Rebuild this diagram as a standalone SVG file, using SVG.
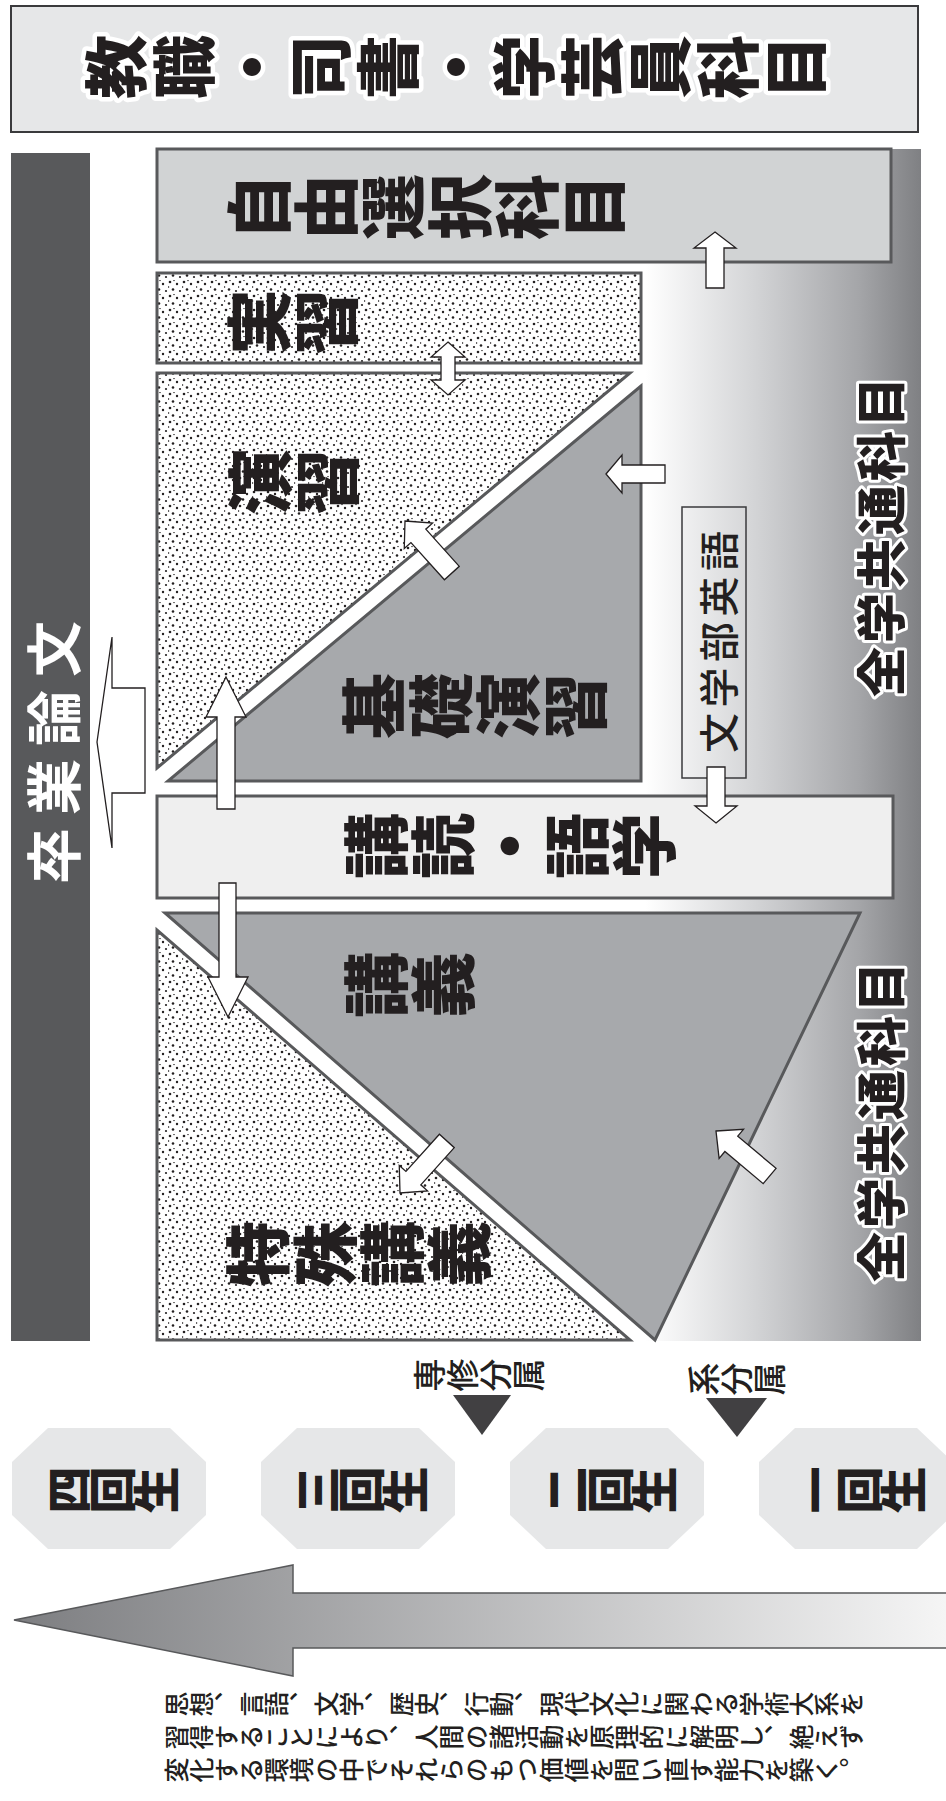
<svg xmlns="http://www.w3.org/2000/svg" width="946" height="1801" viewBox="0 0 946 1801">
<style>
text { font-family: "Noto Sans CJK JP", "Noto Sans CJK SC", sans-serif; fill: #231f20; }
.vb { writing-mode: vertical-rl; }
.lbl { font-size: 66px; font-weight: 900; letter-spacing: 1px; }
.title { font-size: 64px; font-weight: 900; letter-spacing: 4px; stroke: #fff; stroke-width: 9px; stroke-linejoin: round; paint-order: stroke fill; }
.zen { font-size: 50px; font-weight: 900; letter-spacing: 4px; stroke: #fff; stroke-width: 6px; stroke-linejoin: round; paint-order: stroke fill; }
.small { font-size: 33px; font-weight: 500; }
.year { font-size: 47px; font-weight: 900; letter-spacing: -3px; }
.para { font-size: 25px; font-weight: 500; }
.box { stroke: #58595b; stroke-width: 3; }
.arr { fill: #fff; stroke: #231f20; stroke-width: 1.3; stroke-linejoin: miter; }
.oct { fill: #e6e7e8; }
</style>
<defs>
<pattern id="dots" width="14" height="14" patternUnits="userSpaceOnUse">
<rect width="14" height="14" fill="#fff"/>
<g fill="#231f20">
<circle cx="2" cy="2" r="1.3"/>
<circle cx="9" cy="4" r="1.2"/>
<circle cx="5" cy="9.5" r="1.3"/>
<circle cx="12" cy="11" r="1.1"/>
<circle cx="0.5" cy="7" r="0.8"/>
<circle cx="6" cy="0.5" r="0.7"/>
</g>
</pattern>
<linearGradient id="band" gradientUnits="userSpaceOnUse" x1="155" y1="0" x2="921" y2="0">
<stop offset="0" stop-color="#fff"/>
<stop offset="0.64" stop-color="#fff"/>
<stop offset="0.78" stop-color="#d4d5d7"/>
<stop offset="0.92" stop-color="#a4a5a8"/>
<stop offset="1" stop-color="#7f8083"/>
</linearGradient>
<linearGradient id="bigarr" gradientUnits="userSpaceOnUse" x1="14" y1="0" x2="946" y2="0">
<stop offset="0" stop-color="#7d7e81"/>
<stop offset="1" stop-color="#f5f5f5"/>
</linearGradient>
</defs>
<rect width="946" height="1801" fill="#fff"/>

<g id="title">
<rect x="11" y="6" width="907" height="126" fill="#e6e7e8" stroke="#3a3a3c" stroke-width="2"/>
<text class="vb title" x="84" y="67" transform="rotate(-90 84 67)">教職・司書・学芸員科目</text>
</g>

<g id="band-zenkaku">
<rect x="155" y="149" width="766" height="1192" fill="url(#band)"/>
</g>

<g id="sotsugyo">
<rect x="11" y="153" width="79" height="1188" fill="#58595b"/>
<text x="50" y="884" transform="rotate(-90 50 884)" dominant-baseline="central" style="fill:#fff;font-size:56px;font-weight:700;letter-spacing:13px">卒業論文</text>
</g>

<g id="jiyu">
<rect x="157" y="149" width="734" height="113" fill="#d1d3d4" class="box"/>
<text class="vb lbl" x="226" y="207" transform="rotate(-90 226 207)">自由選択科目</text>
</g>

<g id="jisshu">
<rect x="157" y="273" width="484" height="90" fill="url(#dots)" class="box"/>
<text class="vb lbl" x="226" y="322" transform="rotate(-90 226 322)">実習</text>
</g>

<g id="enshu">
<polygon points="157,373 630,373 157,768" fill="url(#dots)" class="box"/>
<text class="vb lbl" x="227" y="482" transform="rotate(-90 227 482)">演習</text>
</g>

<g id="kiso-enshu">
<polygon points="641,386 641,781 168,781" fill="#a7a9ac" class="box"/>
<text class="vb lbl" x="341" y="706" transform="rotate(-90 341 706)">基礎演習</text>
</g>

<g id="bungakubu-eigo">
<rect x="682" y="507" width="64" height="271" fill="none" stroke="#3a3a3c" stroke-width="1.5"/>
<text x="717" y="753" transform="rotate(-90 717 753)" dominant-baseline="central" style="font-size:40px;font-weight:500;letter-spacing:5.5px">文学部英語</text>
</g>

<g id="kodoku-gogaku">
<rect x="157" y="796" width="736" height="102" fill="#efefef" class="box"/>
<text class="vb lbl" x="343" y="846" transform="rotate(-90 343 846)">講読・語学</text>
</g>

<g id="kogi">
<polygon points="165,913 860,913 655,1340" fill="#a7a9ac" class="box"/>
<text class="vb lbl" x="343" y="985" transform="rotate(-90 343 985)">講義</text>
</g>

<g id="tokushu-kogi">
<polygon points="157,930 157,1340 630,1340" fill="url(#dots)" class="box"/>
<text class="vb lbl" x="225" y="1254" transform="rotate(-90 225 1254)">特殊講義</text>
</g>

<g id="zengaku-1">
<text class="zen" x="878" y="697" transform="rotate(-90 878 697)" dominant-baseline="central">全学共通科目</text>
</g>
<g id="zengaku-2">
<text class="zen" x="878" y="1282" transform="rotate(-90 878 1282)" dominant-baseline="central">全学共通科目</text>
</g>

<g id="connectors">
<path class="arr" d="M715,232 L736,248 L724,248 L724,288 L706,288 L706,248 L694,248 Z"/>
<path class="arr" d="M448,342 L465,357 L455,357 L455,380 L465,380 L448,395 L431,380 L441,380 L441,357 L431,357 Z"/>
<path class="arr" d="M606,474 L622,455 L622,465 L665,465 L665,483 L622,483 L622,493 Z"/>
<path class="arr" transform="translate(405 521) rotate(-42)" d="M0,0 L19,20 L10,20 L10,70 L-10,70 L-10,20 L-19,20 Z"/>
<path class="arr" d="M226,677 L246,717 L235,717 L235,809 L217,809 L217,717 L206,717 Z"/>
<path class="arr" d="M716,823 L737,806 L725,806 L725,767 L707,767 L707,806 L695,806 Z"/>
<path class="arr" d="M228,1017 L248,977 L236,977 L236,883 L219,883 L219,977 L208,977 Z"/>
<path class="arr" transform="translate(400 1193) rotate(-138)" d="M0,0 L19,20 L10,20 L10,70 L-10,70 L-10,20 L-19,20 Z"/>
<path class="arr" transform="translate(716 1131) rotate(-50)" d="M0,0 L19,20 L10,20 L10,70 L-10,70 L-10,20 L-19,20 Z"/>
<path class="arr" d="M97,742 L112,637 L112,688 L145,688 L145,793 L112,793 L112,848 Z"/>
</g>

<g id="bunzoku">
<text class="vb small" x="413" y="1375" transform="rotate(-90 413 1375)">専修分属</text>
<polygon points="453,1395 511,1395 482,1435" fill="#414042"/>
<text class="vb small" x="687" y="1379" transform="rotate(-90 687 1379)">系分属</text>
<polygon points="706,1398 767,1398 737,1437" fill="#414042"/>
</g>

<g id="year4">
<polygon class="oct" points="48,1428 170,1428 206,1462 206,1515 170,1549 48,1549 12,1515 12,1462"/>
<text class="vb year" x="45" y="1490" transform="rotate(-90 45 1490)">四回生</text>
</g>
<g id="year3">
<polygon class="oct" points="297,1428 419,1428 455,1462 455,1515 419,1549 297,1549 261,1515 261,1462"/>
<text class="vb year" x="294" y="1490" transform="rotate(-90 294 1490)">三回生</text>
</g>
<g id="year2">
<polygon class="oct" points="546,1428 668,1428 704,1462 704,1515 668,1549 546,1549 510,1515 510,1462"/>
<text class="vb year" x="543" y="1490" transform="rotate(-90 543 1490)">二回生</text>
</g>
<g id="year1">
<polygon class="oct" points="795,1428 917,1428 953,1462 953,1515 917,1549 795,1549 759,1515 759,1462"/>
<text class="vb year" x="792" y="1490" transform="rotate(-90 792 1490)">一回生</text>
</g>

<g id="progress-arrow">
<path d="M14,1620 L293,1565 L293,1593 L947,1593 L947,1648 L293,1648 L293,1676 Z" fill="url(#bigarr)" stroke="#58595b" stroke-width="1.5"/>
</g>

<g id="description">
<text class="vb para" x="164" y="1704" transform="rotate(-90 164 1704)">思想、言語、文学、歴史、行動、現代文化に関わる学術大系を</text>
<text class="vb para" x="164" y="1737" transform="rotate(-90 164 1737)">習得することにより、人間の諸活動を原理的に解明し、絶えず</text>
<text class="vb para" x="164" y="1770" transform="rotate(-90 164 1770)">変化する環境の中でそれらのもつ価値を問い直す能力を築く。</text>
</g>
</svg>
